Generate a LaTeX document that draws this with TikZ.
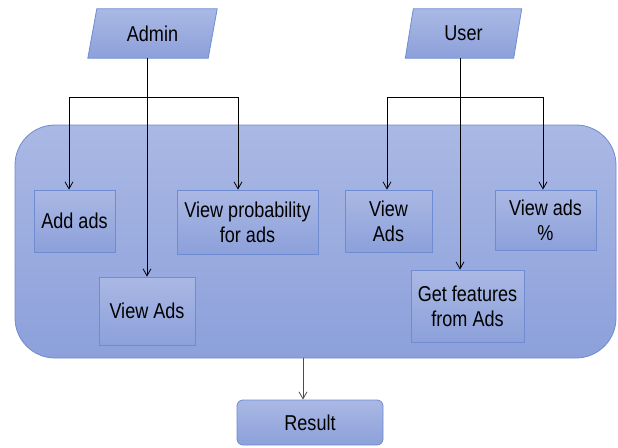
\documentclass[tikz,border=0pt]{standalone}
\usepackage{fontspec}
\setmainfont{Liberation Sans}[FakeStretch=0.84]
\usetikzlibrary{arrows.meta}
\definecolor{topc}{HTML}{AAB8E4}
\definecolor{botc}{HTML}{8CA0DA}
\definecolor{edgec}{HTML}{6F8CD2}
\tikzset{
  boxfill/.style={top color=topc, bottom color=botc, draw=edgec, line width=0.8pt},
  taskbox/.style={boxfill, rectangle, inner sep=0pt, align=center,
     font=\fontsize{21.5}{25}\selectfont},
  lbl/.style={inner sep=0pt, align=center, font=\fontsize{21.5}{25}\selectfont},
  conn/.style={draw=black, line width=0.9pt},
  arr/.style={conn, -{Straight Barb[length=7pt,width=8pt,line width=0.8pt]}},
}
\begin{document}
\begin{tikzpicture}[x=1pt,y=-1pt]
\useasboundingbox (0,0) rectangle (618,447);
% container
\node[boxfill, rectangle, rounded corners=40pt, minimum width=601pt, minimum height=233pt, inner sep=0pt] (panel) at (315.5,241.5) {};
% top parallelograms
\node[lbl, minimum width=120pt, minimum height=49pt] (admin) at (152.5,33.5) {};
\path[boxfill] ([xshift=4.5pt]admin.north west) -- ([xshift=4.5pt]admin.north east)
  -- ([xshift=-4.5pt]admin.south east) -- ([xshift=-4.5pt]admin.south west) -- cycle;
\node[lbl] at (admin.center) {Admin};
\node[lbl, minimum width=108pt, minimum height=49pt] (user) at (463.5,33.5) {};
\path[boxfill] ([xshift=4pt]user.north west) -- ([xshift=4pt]user.north east)
  -- ([xshift=-4pt]user.south east) -- ([xshift=-4pt]user.south west) -- cycle;
\node[lbl] at (user.center) {User};
% task boxes
\node[taskbox, minimum width=81pt, minimum height=62pt] (addads) at (74.5,221) {Add ads};
\node[taskbox, minimum width=141pt, minimum height=64pt] (viewprob) at (247.5,222) {View probability\\for ads};
\node[taskbox, minimum width=96pt, minimum height=68pt] (viewadsA) at (147,311) {View Ads};
\node[taskbox, minimum width=87pt, minimum height=62pt] (viewadsU) at (388.5,221) {View\\Ads};
\node[taskbox, minimum width=101pt, minimum height=60pt] (viewpct) at (545.5,220) {View ads\\\%};
\node[taskbox, minimum width=113pt, minimum height=72pt] (getfeat) at (467.5,306) {Get features\\from Ads};
\node[boxfill, rectangle, rounded corners=6pt, minimum width=146pt, minimum height=45pt, inner sep=0pt,
  font=\fontsize{21.5}{25}\selectfont] (result) at (310,422.5) {Result};
% admin connectors
\coordinate (abr) at (viewadsA.north |- 0,97);
\draw[arr] (viewadsA.north |- admin.south) -- (viewadsA.north);
\draw[arr] (abr) -| ([xshift=-5.5pt]addads.north);
\draw[arr] (abr) -| ([xshift=-9.5pt]viewprob.north);
% user connectors
\coordinate (ubr) at ([xshift=-7.5pt]getfeat.north |- 0,97);
\draw[arr] ([xshift=-7.5pt]getfeat.north |- user.south) -- ([xshift=-7.5pt]getfeat.north);
\draw[arr] (ubr) -| ([xshift=-1.5pt]viewadsU.north);
\draw[arr] (ubr) -| ([xshift=-2.5pt]viewpct.north);
% result connector
\draw[arr, draw=black!70] ([xshift=-7pt]result.north |- panel.south) -- ([xshift=-7pt]result.north);
\end{tikzpicture}
\end{document}
